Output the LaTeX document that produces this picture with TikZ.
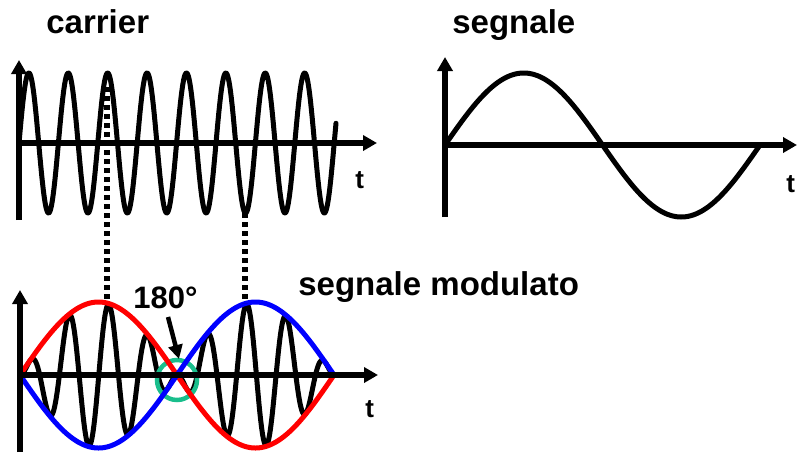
\documentclass[tikz,border=0pt]{standalone}
\usepackage{fontspec}
\setmainfont{Liberation Sans}
\usetikzlibrary{arrows.meta}

\definecolor{envred}{RGB}{255,0,0}
\definecolor{envblue}{RGB}{0,0,255}
\definecolor{ringgreen}{RGB}{25,190,140}

\tikzset{every picture/.style={line width=0.75pt}}
\tikzset{
  axis/.style={line width=5.5pt, -{Triangle[length=14pt,width=15pt]}},
  wave/.style={line width=5pt, line join=round, line cap=round},
  guide/.style={line width=5.5pt, dash pattern={on 5pt off 4pt}},
  title/.style={font=\bfseries\fontsize{33}{40}\selectfont, anchor=base west, inner sep=0pt},
  tlabel/.style={font=\bfseries\fontsize{26}{30}\selectfont, anchor=base west, inner sep=0pt}
}

\begin{document}
\begin{tikzpicture}[x=1pt, y=-1pt]
    \useasboundingbox (0,0) rectangle (797,453);

    % carrier
    \draw[wave] plot[domain=19:336, samples=600] (\x, {143-70*sin(9.137*(\x-19))});
    \draw[axis] (19,220) -- (19,60);
    \draw[axis] (19,143) -- (377,143);
    \node[title] (lblcarrier) at (46,33) {carrier};
    \node[tlabel] (tcarrier) at (355,188) {t};

    % segnale
    \draw[wave] plot[domain=445:760, samples=300] (\x, {145-72*sin(1.142857*(\x-445))});
    \draw[axis] (445,217) -- (445,57);
    \draw[axis] (445,145) -- (797,145);
    \node[title] (lblsegnale) at (452,33) {segnale};
    \node[tlabel] (tsegnale) at (786,192) {t};

    % segnale modulato
    \draw[wave] plot[domain=20:334, samples=600] (\x, {375-72*sin(9.137*(\x-20))*sin(1.146497*(\x-20))});
    \draw[ringgreen, line width=4.5pt] (177,380) circle (20pt);
    \draw[wave, envred] plot[domain=20:334, samples=300] (\x, {375-73*sin(1.146497*(\x-20))});
    \draw[wave, envblue] plot[domain=20:334, samples=300] (\x, {375+73*sin(1.146497*(\x-20))});
    \draw[axis] (20,452) -- (20,290);
    \draw[axis] (20,375) -- (378,375);
    \node[title] (lblmodulato) at (298,295) {segnale modulato};
    \node[tlabel] (tmodulato) at (365,417) {t};

    % guide lines
    \coordinate (cpeak) at (107,87);
    \coordinate (mpeak) at (107,300);
    \coordinate (ctrough) at (245,213);
    \coordinate (mtrough) at (245,303);
    \draw[guide] (cpeak) -- (mpeak);
    \draw[guide] (ctrough) -- (mtrough);

    % phase jump
    \node[font=\bfseries\fontsize{31}{37}\selectfont, anchor=base west, inner sep=0pt] (lbldeg) at (133,308) {180°};
    \coordinate (arrtail) at (168,317);
    \coordinate (arrtip) at (179,359);
    \draw[line width=4.5pt, -{Triangle[length=14pt,width=14pt]}] (arrtail) -- (arrtip);
\end{tikzpicture}
\end{document}
